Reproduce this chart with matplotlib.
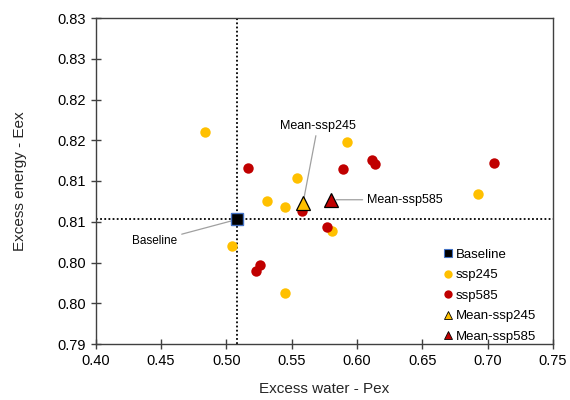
import matplotlib.pyplot as plt
from matplotlib.lines import Line2D

plt.rcParams['font.family'] = ['Liberation Sans', 'DejaVu Sans']

# Excess water (Pex) and excess energy (Eex) per model run
ssp245_pex = [0.4838, 0.5921, 0.5538, 0.5449, 0.5313, 0.5046, 0.5446, 0.5810, 0.6923]
ssp245_eex = [0.8160, 0.8148, 0.8104, 0.8068, 0.8075, 0.8020, 0.7962, 0.8039, 0.8084]
ssp585_pex = [0.5164, 0.5892, 0.6115, 0.6136, 0.7051, 0.5577, 0.5769, 0.5256, 0.5226]
ssp585_eex = [0.8116, 0.8115, 0.8126, 0.8121, 0.8122, 0.8063, 0.8044, 0.7997, 0.7990]

baseline = (0.5085, 0.8053)
mean_ssp245 = (0.5587, 0.8073)
mean_ssp585 = (0.5798, 0.8077)

yticks = [0.79, 0.795, 0.80, 0.805, 0.81, 0.815, 0.82, 0.825, 0.83]
ytick_labels = ['0.79', '0.80', '0.80', '0.81', '0.81', '0.82', '0.82', '0.83', '0.83']
xticks = [0.40, 0.45, 0.50, 0.55, 0.60, 0.65, 0.70, 0.75]

yellow = '#FFC000'
red = '#C00000'

fig = plt.figure(figsize=(5.7, 4.0), dpi=100)
ax = fig.add_axes([0.168, 0.14, 0.802, 0.815])

ax.axvline(baseline[0], color='black', ls=(0, (1, 1.3)), lw=1.3, zorder=1)
ax.axhline(baseline[1], color='black', ls=(0, (1, 1.3)), lw=1.3, zorder=1)

ax.plot(ssp245_pex, ssp245_eex, 'o', color=yellow, ms=7.5, mec='none', zorder=3)
ax.plot(ssp585_pex, ssp585_eex, 'o', color=red, ms=7.5, mec='none', zorder=3)
ax.plot(*baseline, 's', color='black', mec='#4472C4', mew=1.0, ms=8, zorder=4)
ax.plot(*mean_ssp245, '^', color=yellow, mec='black', mew=0.9, ms=9.5, zorder=4)
ax.plot(*mean_ssp585, '^', color=red, mec='black', mew=0.9, ms=9.5, zorder=4)

arrow = dict(arrowstyle='-', color='#a0a0a0', lw=0.9, shrinkA=1, shrinkB=4)
ax.annotate('Baseline', xy=baseline, xytext=(0.4454, 0.8026), fontsize=8.5,
            ha='center', va='center', arrowprops=arrow)
ax.annotate('Mean-ssp245', xy=mean_ssp245, xytext=(0.5700, 0.8168), fontsize=9,
            ha='center', va='center', arrowprops=arrow)
ax.annotate('Mean-ssp585', xy=mean_ssp585, xytext=(0.6075, 0.8077), fontsize=9,
            ha='left', va='center', arrowprops=arrow)

ax.set_xlim(0.40, 0.75)
ax.set_ylim(0.79, 0.83)
ax.set_xticks(xticks)
ax.set_xticklabels(['%.2f' % v for v in xticks])
ax.set_yticks(yticks)
ax.set_yticklabels(ytick_labels)
ax.tick_params(direction='inout', length=7, width=1, labelsize=10.5, color='#404040')

for s in ax.spines.values():
    s.set_color('#404040')
    s.set_linewidth(1)

ax.set_xlabel('Excess water - Pex', fontsize=11, color='#262626', labelpad=10)
ax.set_ylabel('Excess energy - Eex', fontsize=11, color='#262626', labelpad=22)

handles = [
    Line2D([], [], ls='none', marker='s', color='black', mec='#4472C4', mew=0.8, ms=6),
    Line2D([], [], ls='none', marker='o', color=yellow, mec='none', ms=6),
    Line2D([], [], ls='none', marker='o', color=red, mec='none', ms=6),
    Line2D([], [], ls='none', marker='^', color=yellow, mec='black', mew=0.6, ms=5.5),
    Line2D([], [], ls='none', marker='^', color=red, mec='black', mew=0.6, ms=5.5),
]
labels = ['Baseline', 'ssp245', 'ssp585', 'Mean-ssp245', 'Mean-ssp585']
ax.legend(handles, labels, loc='lower right', bbox_to_anchor=(0.975, -0.012), frameon=False,
          fontsize=9.5, handletextpad=0.1, labelspacing=0.62, handlelength=1.0,
          borderaxespad=0.0)

plt.savefig('out.png', dpi=100)
